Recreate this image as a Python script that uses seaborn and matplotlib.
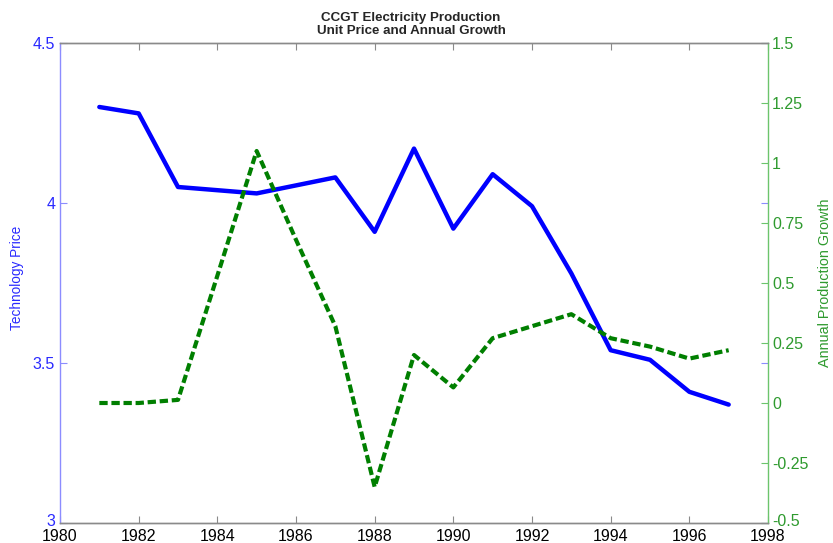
import matplotlib
matplotlib.use("Agg")
import matplotlib.pyplot as plt
import matplotlib.transforms as mtransforms
import seaborn as sns
import pandas as pd

years = [1981, 1982, 1983, 1984, 1985, 1986, 1987, 1988, 1989,
         1990, 1991, 1992, 1993, 1994, 1995, 1996, 1997]
price = [4.30, 4.28, 4.05, 4.04, 4.03, 4.055, 4.08, 3.91, 4.17,
         3.92, 4.09, 3.99, 3.78, 3.54, 3.51, 3.41, 3.37]
growth = [0.0, 0.0, 0.013, 0.53, 1.05, 0.68, 0.32, -0.35, 0.20,
          0.065, 0.27, 0.32, 0.37, 0.27, 0.235, 0.185, 0.22]

x_ticks = list(range(1980, 1999, 2))
left_ticks = [3, 3.5, 4, 4.5]
left_labels = ["3", "3.5", "4", "4.5"]
right_ticks = [-0.5, -0.25, 0, 0.25, 0.5, 0.75, 1, 1.25, 1.5]
right_labels = ["-0.5", "-0.25", "0", "0.25", "0.5", "0.75", "1", "1.25", "1.5"]

sns.set_style("white")
plt.rcParams['font.family'] = ['Liberation Sans', 'DejaVu Sans']

df = pd.DataFrame({"year": years, "price": price, "growth": growth})

fig = plt.figure(figsize=(8.33, 5.43), dpi=100)
ax = fig.add_axes([60/833, 20/543, 708/833, 480/543])
ax2 = ax.twinx()

blue = "#0000ff"
green = "#007f00"
lblue = "#8c8cff"
lgreen = "#6cc46c"
grey = "#8a8a8a"

sns.lineplot(data=df, x="year", y="price", ax=ax, color=blue, lw=3.2)
sns.lineplot(data=df, x="year", y="growth", ax=ax2, color=green, lw=3.0,
             linestyle=(0, (2.0, 0.9)))

ax.set_xlim(1980, 1998)
ax.set_ylim(3, 4.5)
ax2.set_ylim(-0.5, 1.5)
ax.set_xticks(x_ticks)
ax.set_xticklabels([str(t) for t in x_ticks], fontsize=11.5, color="black")
ax.set_yticks(left_ticks)
ax.set_yticklabels(left_labels, fontsize=11.5, color="#2a2aff")
ax2.set_yticks(right_ticks)
ax2.set_yticklabels(right_labels, fontsize=11.5, color="#2e9a2e")

ax.tick_params(axis="x", direction="in", length=5, width=0.8, color=grey,
               top=True, bottom=True, pad=4.5)
ax.tick_params(axis="y", direction="in", length=5, width=0.8, color=lblue,
               left=True, right=True, pad=3.5)
ax2.tick_params(axis="y", direction="in", length=5, width=0.8, color=lgreen,
                right=True, left=False, pad=3)

# lift the bottom y tick labels a little so they sit just above the year labels
lift = mtransforms.ScaledTranslation(0, 3/100, fig.dpi_scale_trans)
for lab in (ax.get_yticklabels()[0], ax2.get_yticklabels()[0]):
    lab.set_transform(lab.get_transform() + lift)

for a in (ax, ax2):
    a.spines["top"].set_color(grey)
    a.spines["bottom"].set_color(grey)
    a.spines["left"].set_color(lblue)
    a.spines["right"].set_color(lgreen)
    for s in a.spines.values():
        s.set_linewidth(1.0)
ax2.spines["left"].set_visible(False)
ax.spines["right"].set_visible(False)

ax.set_xlabel("")
ax.set_ylabel("Technology Price", fontsize=9.8, color="#2a2aff")
ax.yaxis.set_label_coords(-0.051, (523 - 278) / 480)
ax2.set_ylabel("Annual Production Growth", fontsize=10.4, color="#2e9a2e",
               rotation=90)
ax2.yaxis.set_label_position("right")
ax2.yaxis.set_label_coords(1.0706, 0.5)

fig.text(411/833, 1 - 21/543, "CCGT Electricity Production",
         ha="center", va="baseline", fontsize=9.6, fontweight="bold")
fig.text(411/833, 1 - 33.5/543, "Unit Price and Annual Growth",
         ha="center", va="baseline", fontsize=9.6, fontweight="bold")

fig.savefig("out.png", dpi=100)
